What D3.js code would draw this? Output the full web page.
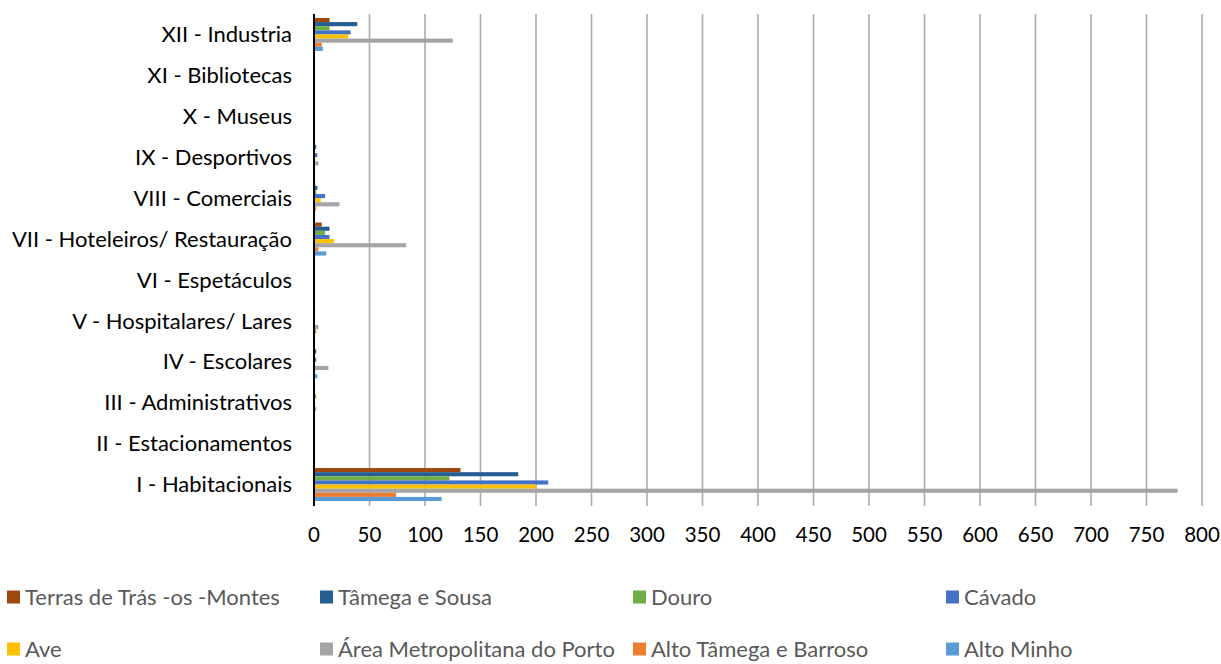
<!DOCTYPE html>
<html>
<head>
<meta charset="utf-8">
<script src="https://cdn.jsdelivr.net/npm/d3@7"></script>
<style>
  html, body { margin: 0; padding: 0; background: #fff; }
  svg { display: block; font-family: Lato, "Open Sans", sans-serif; }
</style>
</head>
<body>
<svg id="chart" width="1221" height="664"></svg>
<script>
// Building categories (bottom to top on the chart)
const categories = [
  "I - Habitacionais",
  "II - Estacionamentos",
  "III - Administrativos",
  "IV - Escolares",
  "V - Hospitalares/ Lares",
  "VI - Espetáculos",
  "VII - Hoteleiros/ Restauração",
  "VIII - Comerciais",
  "IX - Desportivos",
  "X - Museus",
  "XI - Bibliotecas",
  "XII - Industria"
];

// Regions, in bar order within each group (top to bottom)
const regions = [
  "Terras de Trás -os -Montes",
  "Tâmega e Sousa",
  "Douro",
  "Cávado",
  "Ave",
  "Área Metropolitana do Porto",
  "Alto Tâmega e Barroso",
  "Alto Minho"
];

const colors = ["#9E480E", "#255E91", "#70AD47", "#4472C4", "#FFC000", "#A5A5A5", "#ED7D31", "#5B9BD5"];

// Values per region, one entry per category (I .. XII)
const terrasTrasMontes = [132, 0, 0, 0, 0, 0, 7, 1, 0, 0, 0, 14];
const tamegaSousa      = [184, 0, 0, 2, 1, 0, 14, 3, 2, 0, 0, 39];
const douro            = [122, 0, 2, 0, 0, 0, 10, 2, 0, 0, 0, 14];
const cavado           = [211, 0, 0, 2, 0, 0, 14, 10, 3, 0, 0, 33];
const ave              = [200, 0, 1, 1, 0, 1, 18, 6, 1, 0, 0, 31];
const areaMetroPorto   = [778, 0, 2, 13, 4, 0, 83, 23, 4, 0, 0, 125];
const altoTamegaBarroso= [74, 0, 0, 0, 2, 0, 4, 2, 0, 0, 0, 7];
const altoMinho        = [115, 1, 0, 3, 0, 0, 11, 1, 0, 0, 0, 8];

const seriesValues = [terrasTrasMontes, tamegaSousa, douro, cavado, ave, areaMetroPorto, altoTamegaBarroso, altoMinho];

const xTicks = d3.range(0, 801, 50);

const svg = d3.select("#chart");

const x = d3.scaleLinear().domain([0, 800]).range([314, 1202]);
const y = d3.scaleBand().domain(categories).range([505, 14]).paddingInner(0).paddingOuter(0);
const sub = d3.scaleBand().domain(regions).range([0, y.bandwidth()]).paddingInner(0).paddingOuter(0.96);

// Vertical gridlines
svg.append("g")
  .selectAll("line")
  .data(xTicks.slice(1))
  .join("line")
  .attr("x1", d => x(d)).attr("x2", d => x(d))
  .attr("y1", 14).attr("y2", 506)
  .attr("stroke", "#ababab")
  .attr("stroke-width", 1.6);

// Bars
const groups = svg.append("g")
  .selectAll("g")
  .data(categories)
  .join("g")
  .attr("transform", c => `translate(0,${y(c)})`);

groups.selectAll("rect")
  .data((c, ci) => regions.map((r, ri) => ({ region: r, value: seriesValues[ri][ci], color: colors[ri] })))
  .join("rect")
  .attr("x", x(0))
  .attr("y", d => sub(d.region))
  .attr("width", d => x(d.value) - x(0))
  .attr("height", sub.bandwidth())
  .attr("fill", d => d.color);

// Category axis line
svg.append("line")
  .attr("x1", x(0)).attr("x2", x(0))
  .attr("y1", 14).attr("y2", 506)
  .attr("stroke", "#000")
  .attr("stroke-width", 2);

// Category labels
svg.append("g")
  .selectAll("text")
  .data(categories)
  .join("text")
  .attr("x", 292)
  .attr("y", c => y(c) + y.bandwidth() / 2)
  .attr("dy", "0.35em")
  .attr("text-anchor", "end")
  .attr("font-size", 22)
  .attr("fill", "#000")
  .text(c => c);

// Value axis tick labels
svg.append("g")
  .selectAll("text")
  .data(xTicks)
  .join("text")
  .attr("x", d => x(d))
  .attr("y", 535)
  .attr("dy", "0.35em")
  .attr("text-anchor", "middle")
  .attr("font-size", 20.5)
  .attr("fill", "#000")
  .text(d => d);

// Legend: two rows of four
const legendCols = [7, 320, 633, 946];
const legendRows = [597, 649];
const legend = svg.append("g")
  .selectAll("g")
  .data(regions)
  .join("g")
  .attr("transform", (r, i) => `translate(${legendCols[i % 4]},${legendRows[Math.floor(i / 4)]})`);

legend.append("rect")
  .attr("x", 0).attr("y", -6.5)
  .attr("width", 13).attr("height", 13)
  .attr("fill", (r, i) => colors[i]);

legend.append("text")
  .attr("x", 18)
  .attr("y", 0)
  .attr("dy", "0.35em")
  .attr("font-size", 22)
  .attr("fill", "#595959")
  .text(r => r);
</script>
</body>
</html>
